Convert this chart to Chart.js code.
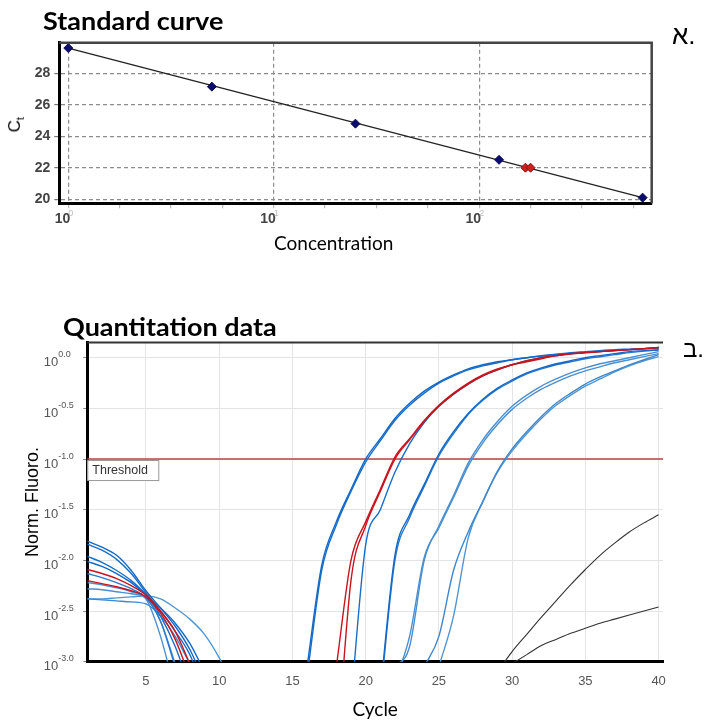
<!DOCTYPE html>
<html>
<head>
<meta charset="utf-8">
<title>Standard curve and quantitation data</title>
<script src="https://cdn.jsdelivr.net/npm/chart.js@4.4.1/dist/chart.umd.min.js"></script>
<style>
  body { margin: 0; background: #fff; }
  #page { position: relative; width: 707px; height: 722px; overflow: hidden; }
  canvas { position: absolute; left: 0; }
  .txt { position: absolute; white-space: nowrap; color: #000; line-height: 1; z-index: 2; }
  .head { font: bold 25px Lato; transform: scaleX(1.08); transform-origin: left top; }
</style>
</head>
<body>
<div id="page">
  <canvas id="stdCurve" width="707" height="260" style="top:0"></canvas>
  <canvas id="quantChart" width="707" height="422" style="top:300px"></canvas>
  <div class="txt head" style="left:43px; top:5px;">Standard curve</div>
  <div class="txt head" style="left:63px; top:311px;">Quantitation data</div>
  <div class="txt" style="left:274px; top:231px; font: 19px Lato;">Concentration</div>
  <div class="txt" style="left:8px; top:114px; font: 17px 'Liberation Sans'; transform: rotate(-90deg);">C<sub style="font-size:11px">t</sub></div>
  <div class="txt" style="left:672px; top:20px; font: 26px 'Liberation Sans';">א.</div>
  <div class="txt" style="left:683px; top:335px; font: 24px 'Liberation Sans';">ב.</div>
</div>
<script>
// ---- standard curve ----
const standardConc = [1, 5, 25, 125, 625];
const standardCt = [29.6, 27.15, 24.8, 22.5, 20.1];
const unknownConc = [168, 178];
const unknownCt = [22.0, 22.0];
const fitConc = [1, 625];
const fitCt = [29.6, 20.1];
const ctTicks = [20, 22, 24, 26, 28];
const concDecades = [0, 1, 2];
const concMinorExp = [0, 0.25, 0.5, 0.75, 1, 1.25, 1.5, 1.75, 2, 2.25, 2.5, 2.75];

// ---- quantitation data (log10 of normalised fluorescence per cycle) ----
const cycles = [1, 2, 3, 4, 5, 6, 7, 8, 9, 10, 11, 12, 13, 14, 15, 16, 17, 18, 19, 20,
  21, 22, 23, 24, 25, 26, 27, 28, 29, 30, 31, 32, 33, 34, 35, 36, 37, 38, 39, 40];
const cycleTicks = [5, 10, 15, 20, 25, 30, 35, 40];
const fluoroTicks = [-3, -2.5, -2, -1.5, -1, -0.5, 0];
const thresholdLevel = -1.0;

const unknownA = [-2.09, -2.13, -2.18, -2.25, -2.34, -2.5, -2.7, -3.02, null, null,
  null, null, null, null, null, null, null, -3.05, -2.0, -1.62,
  -1.3, -0.98, -0.8, -0.62, -0.47, -0.35, -0.25, -0.17, -0.11, -0.07,
  -0.03, 0.0, 0.02, 0.04, 0.05, 0.06, 0.07, 0.08, 0.09, 0.1];
const unknownB = [-2.2, -2.23, -2.26, -2.3, -2.36, -2.52, -2.78, -3.15, null, null,
  null, null, null, null, null, null, null, -4.0, -2.2, -1.66,
  -1.32, -1.0, -0.81, -0.63, -0.48, -0.36, -0.26, -0.18, -0.12, -0.07,
  -0.04, -0.01, 0.02, 0.035, 0.05, 0.06, 0.07, 0.08, 0.09, 0.1];
const std625a = [-1.81, -1.87, -1.95, -2.1, -2.3, -2.47, -2.65, -2.88, -3.2, null,
  null, null, null, null, null, -3.05, -2.05, -1.62, -1.3, -1.0,
  -0.8, -0.6, -0.45, -0.33, -0.24, -0.17, -0.11, -0.07, -0.04, -0.02,
  0.0, 0.02, 0.035, 0.05, 0.06, 0.07, 0.08, 0.085, 0.09, 0.1];
const std625b = [-1.84, -1.9, -1.99, -2.13, -2.32, -2.5, -2.7, -2.93, -3.3, null,
  null, null, null, null, null, -3.15, -2.1, -1.65, -1.32, -1.03,
  -0.82, -0.62, -0.47, -0.35, -0.25, -0.18, -0.12, -0.08, -0.05, -0.02,
  0.0, 0.015, 0.03, 0.045, 0.055, 0.065, 0.075, 0.08, 0.088, 0.095];
const std125 = [-1.96, -2.02, -2.1, -2.2, -2.34, -2.55, -2.85, -3.25, null, null,
  null, null, null, null, null, null, null, null, -3.4, -1.85,
  -1.5, -1.13, -0.85, -0.64, -0.48, -0.36, -0.26, -0.18, -0.12, -0.07,
  -0.03, 0.0, 0.02, 0.04, 0.05, 0.06, 0.07, 0.08, 0.09, 0.095];
const std25a = [-2.01, -2.06, -2.13, -2.22, -2.34, -2.47, -2.62, -2.82, -3.1, null,
  null, null, null, null, null, null, null, null, null, null,
  -3.3, -1.95, -1.55, -1.25, -0.95, -0.73, -0.55, -0.41, -0.3, -0.22,
  -0.15, -0.1, -0.06, -0.03, 0.0, 0.02, 0.04, 0.06, 0.07, 0.08];
const std25b = [-2.13, -2.17, -2.22, -2.28, -2.37, -2.6, -3.05, null, null, null,
  null, null, null, null, null, null, null, null, null, null,
  -3.35, -2.0, -1.58, -1.27, -0.97, -0.75, -0.56, -0.42, -0.31, -0.23,
  -0.16, -0.11, -0.07, -0.04, -0.01, 0.01, 0.03, 0.05, 0.065, 0.075];
const std5a = [-2.22, -2.24, -2.27, -2.31, -2.38, -2.75, -3.3, null, null, null,
  null, null, null, null, null, null, null, null, null, null,
  null, -3.05, -2.85, -2.0, -1.66, -1.36, -1.04, -0.81, -0.63, -0.48,
  -0.37, -0.28, -0.21, -0.15, -0.1, -0.06, -0.03, 0.0, 0.03, 0.06];
const std5b = [-2.28, -2.29, -2.31, -2.33, -2.37, -2.6, -3.02, null, null, null,
  null, null, null, null, null, null, null, null, null, null,
  null, -3.2, -2.75, -1.97, -1.68, -1.38, -1.07, -0.84, -0.66, -0.51,
  -0.4, -0.31, -0.24, -0.18, -0.13, -0.09, -0.05, -0.02, 0.01, 0.04];
const std1a = [-2.38, -2.39, -2.4, -2.41, -2.43, -2.55, -2.75, -3.02, null, null,
  null, null, null, null, null, null, null, null, null, null,
  null, null, null, -3.05, -2.75, -2.1, -1.72, -1.42, -1.12, -0.9,
  -0.73, -0.58, -0.45, -0.35, -0.26, -0.19, -0.13, -0.07, -0.02, 0.03];
const std1b = [-2.38, -2.38, -2.37, -2.36, -2.35, -2.38, -2.47, -2.58, -2.73, -2.96,
  -3.25, null, null, null, null, null, null, null, null, null,
  null, null, null, null, -3.05, -2.55, -1.78, -1.42, -1.13, -0.92,
  -0.75, -0.6, -0.47, -0.37, -0.28, -0.21, -0.14, -0.08, -0.03, 0.01];
const ntcA = [null, null, null, null, null, null, null, null, null, null,
  null, null, null, null, null, null, null, null, null, null,
  null, null, null, null, null, null, null, null, -3.1, -2.9,
  -2.73, -2.56, -2.4, -2.24, -2.09, -1.95, -1.83, -1.72, -1.63, -1.55];
const ntcB = [null, null, null, null, null, null, null, null, null, null,
  null, null, null, null, null, null, null, null, null, null,
  null, null, null, null, null, null, null, null, null, -3.02,
  -2.93, -2.84, -2.78, -2.72, -2.67, -2.62, -2.58, -2.54, -2.5, -2.46];

const wells = [unknownA, unknownB, std625a, std625b, std125, std25a, std25b,
  std5a, std5b, std1a, std1b, ntcA, ntcB];
const wellColors = ['#c8141e', '#c8141e', '#1469c8', '#1a6ec8', '#1a6ec8', '#1469c8', '#2a78cc',
  '#4a8fd0', '#4a8fd0', '#3d87cf', '#5096d2', '#333333', '#333333'];

Chart.defaults.font.family = '"Liberation Sans", Arial, sans-serif';

// top / right frame lines
const boxFrame = {
    id: 'boxFrame',
    afterDraw(chart, args, opts) {
        const {ctx, chartArea: a} = chart;
        ctx.save();
        ctx.strokeStyle = opts.color;
        ctx.lineWidth = opts.width;
        ctx.beginPath();
        ctx.moveTo(a.left, a.top);
        ctx.lineTo(a.right, a.top);
        if (opts.right) ctx.lineTo(a.right, a.bottom);
        ctx.stroke();
        ctx.restore();
    }
};

// "10" with a small exponent under the concentration axis
const concLabels = {
    id: 'concLabels',
    afterDraw(chart) {
        const {ctx, scales: {x, y}} = chart;
        ctx.save();
        ctx.textBaseline = 'middle';
        concDecades.forEach(e => {
            const px = x.getPixelForValue(Math.pow(10, e));
            ctx.font = 'bold 14px "Liberation Sans"';
            ctx.fillStyle = '#444';
            ctx.textAlign = 'right';
            ctx.fillText('10', px + 2, y.bottom + 16);
            ctx.font = '9px "Liberation Sans"';
            ctx.fillStyle = '#bbb';
            ctx.textAlign = 'left';
            ctx.fillText(String(e), px, y.bottom + 10);
        });
        ctx.restore();
    }
};

const isDecade = v => Math.abs(Math.log10(v) - Math.round(Math.log10(v))) < 1e-6;

new Chart(document.getElementById('stdCurve'), {
    type: 'scatter',
    data: {
        datasets: [
            {
                label: 'Unknown',
                data: unknownConc.map((c, i) => ({x: c, y: unknownCt[i]})),
                pointStyle: 'rectRot', pointRadius: 4.5,
                backgroundColor: '#d0201e', borderColor: '#7a1010', borderWidth: 1
            },
            {
                label: 'Standard',
                data: standardConc.map((c, i) => ({x: c, y: standardCt[i]})),
                pointStyle: 'rectRot', pointRadius: 4.5,
                backgroundColor: '#0c0c70', borderColor: '#0c0c50', borderWidth: 1
            },
            {
                label: 'Fit',
                data: fitConc.map((c, i) => ({x: c, y: fitCt[i]})),
                showLine: true, borderColor: '#222', borderWidth: 1.3, pointRadius: 0
            }
        ]
    },
    options: {
        responsive: false,
        animation: false,
        layout: {padding: {left: 0, right: 55.3, top: 42.7, bottom: 0}},
        plugins: {
            legend: {display: false},
            tooltip: {enabled: false},
            boxFrame: {color: '#444', width: 2.5, right: true}
        },
        scales: {
            x: {
                type: 'logarithmic',
                min: 0.904, max: 692,
                afterBuildTicks: s => { s.ticks = concMinorExp.map(e => ({value: Math.pow(10, e)})); },
                afterFit: s => { s.height = 56.7; },
                ticks: {display: false},
                grid: {
                    color: c => (c.tick && isDecade(c.tick.value)) ? '#8c8c8c' : 'rgba(0,0,0,0)',
                    lineWidth: 1.2,
                    tickLength: 5,
                    tickColor: '#bbb'
                },
                border: {color: '#000', width: 3, dash: [4, 3]}
            },
            y: {
                min: 19.74, max: 29.94,
                afterBuildTicks: s => { s.ticks = ctTicks.map(v => ({value: v})); },
                afterFit: s => { s.width = 59.3; },
                ticks: {color: '#444', font: {size: 14, weight: 'bold'}, padding: 4},
                grid: {color: '#8c8c8c', lineWidth: 1.2, tickLength: 5, tickColor: '#777'},
                border: {color: '#000', width: 3, dash: [4, 3]}
            }
        }
    },
    plugins: [boxFrame, concLabels]
});

// "10" with exponent on the fluorescence axis
const fluoroLabels = {
    id: 'fluoroLabels',
    afterDraw(chart) {
        const {ctx, scales: {y}} = chart;
        ctx.save();
        ctx.fillStyle = '#555';
        ctx.textBaseline = 'middle';
        fluoroTicks.forEach(v => {
            const py = y.getPixelForValue(v);
            ctx.font = '13px "Liberation Sans"';
            ctx.textAlign = 'right';
            ctx.fillText('10', y.right - 29, py + 5);
            ctx.font = '9px "Liberation Sans"';
            ctx.textAlign = 'left';
            ctx.fillText(v.toFixed(1), y.right - 29, py - 3);
        });
        ctx.restore();
    }
};

const thresholdLine = {
    id: 'thresholdLine',
    beforeDatasetsDraw(chart) {
        const {ctx, chartArea: a, scales: {y}} = chart;
        const py = y.getPixelForValue(thresholdLevel);
        ctx.save();
        ctx.strokeStyle = '#b84545';
        ctx.lineWidth = 1.5;
        ctx.beginPath();
        ctx.moveTo(a.left, py);
        ctx.lineTo(a.right, py);
        ctx.stroke();
        ctx.restore();
    },
    afterDatasetsDraw(chart) {
        const {ctx, chartArea: a, scales: {y}} = chart;
        const py = y.getPixelForValue(thresholdLevel);
        ctx.save();
        ctx.fillStyle = '#fff';
        ctx.strokeStyle = '#999';
        ctx.lineWidth = 1;
        ctx.fillRect(a.left, py + 1.5, 71, 20);
        ctx.strokeRect(a.left + 0.5, py + 1.5, 71, 20);
        ctx.fillStyle = '#333';
        ctx.font = '12.5px "Liberation Sans"';
        ctx.textBaseline = 'middle';
        ctx.fillText('Threshold', a.left + 5, py + 12);
        ctx.restore();
    }
};

new Chart(document.getElementById('quantChart'), {
    type: 'line',
    data: {
        labels: cycles,
        datasets: wells.map((w, i) => ({
            data: w,
            borderColor: wellColors[i],
            borderWidth: i >= 11 ? 1.1 : 1.4,
            clip: 0
        }))
    },
    options: {
        responsive: false,
        animation: false,
        spanGaps: false,
        layout: {padding: {left: 0, right: 44, top: 42.5, bottom: 0}},
        elements: {
            point: {radius: 0},
            line: {cubicInterpolationMode: 'monotone'}
        },
        plugins: {
            legend: {display: false},
            tooltip: {enabled: false},
            boxFrame: {color: '#333', width: 2, right: false}
        },
        scales: {
            x: {
                type: 'linear',
                min: 1, max: 40.3,
                afterBuildTicks: s => { s.ticks = cycleTicks.map(v => ({value: v})); },
                afterFit: s => { s.height = 60.3; },
                ticks: {color: '#555', font: {size: 13}, padding: 12},
                grid: {color: '#e4e4e4', drawTicks: false},
                border: {color: '#000', width: 3},
                title: {display: true, text: 'Cycle', color: '#000', font: {size: 19, family: 'Lato'}, padding: {top: 0, bottom: 1}}
            },
            y: {
                min: -3, max: 0.15,
                afterBuildTicks: s => { s.ticks = fluoroTicks.map(v => ({value: v})); },
                afterFit: s => { s.width = 87.3; },
                ticks: {display: false},
                grid: {color: '#e4e4e4', tickLength: 4, tickColor: '#888'},
                border: {color: '#000', width: 3},
                title: {display: true, text: 'Norm. Fluoro.', color: '#000', font: {size: 18}, padding: {top: 22, bottom: 0}}
            }
        }
    },
    plugins: [boxFrame, fluoroLabels, thresholdLine]
});
</script>
</body>
</html>
